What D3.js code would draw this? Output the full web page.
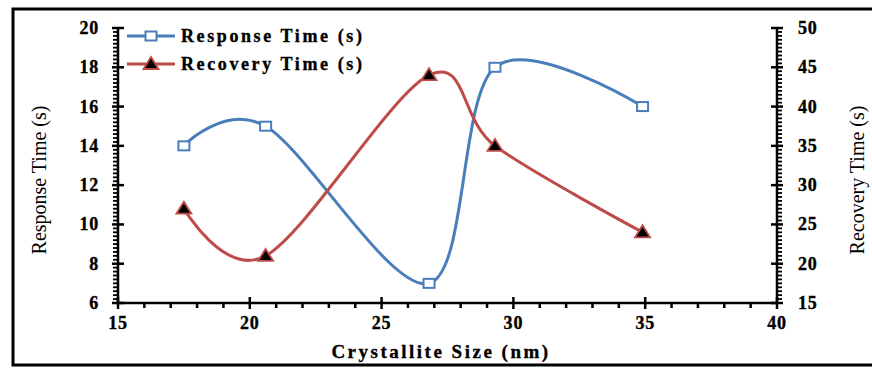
<!DOCTYPE html>
<html><head><meta charset="utf-8">
<script src="https://cdn.jsdelivr.net/npm/d3@7"></script>
<style>body{margin:0;background:#fff;} svg{display:block;} text{font-family:"Liberation Serif","Times New Roman",Times,serif;}
.b{font-weight:700;stroke:#000;stroke-width:0.35px;}</style>
</head><body>
<script>
const crystalliteSize = [17.5, 20.6, 26.8, 29.3, 34.9];
const responseTime = [14, 15, 7, 18, 16];
const recoveryTime = [27, 21, 44, 35, 24];
const xTicks = [15, 20, 25, 30, 35, 40];
const yLeftTicks = [6, 8, 10, 12, 14, 16, 18, 20];
const yRightTicks = [15, 20, 25, 30, 35, 40, 45, 50];
const seriesNames = ["Response Time (s)", "Recovery Time (s)"];

const W = 872, H = 370;
const svg = d3.select("body").append("svg").attr("width", W).attr("height", H);
const blue = "#4a7ebb", red = "#be4b48";

svg.append("rect").attr("x", 13).attr("y", 9).attr("width", 870).attr("height", 356)
  .attr("fill", "none").attr("stroke", "#000").attr("stroke-width", 3);

const L = 118, R = 777, T = 28, B = 303;
const x = d3.scaleLinear().domain([15, 40]).range([L, R]);
const yL = d3.scaleLinear().domain([6, 20]).range([B, T]);
const yR = d3.scaleLinear().domain([15, 50]).range([B, T]);

const axG = svg.append("g").attr("stroke", "#000");
axG.append("line").attr("x1", L).attr("x2", R).attr("y1", B).attr("y2", B).attr("stroke-width", 2.5);
axG.append("line").attr("x1", L).attr("x2", L).attr("y1", T).attr("y2", B).attr("stroke-width", 2.5);
axG.append("line").attr("x1", R).attr("x2", R).attr("y1", T).attr("y2", B).attr("stroke-width", 2.5);

d3.range(6, 20.001, 0.2).forEach(v => {
  const major = Math.abs(v / 2 - Math.round(v / 2)) < 1e-6;
  axG.append("line").attr("y1", yL(v)).attr("y2", yL(v))
    .attr("x1", major ? L - 6 : L - 5).attr("x2", major ? L + 6 : L)
    .attr("stroke-width", major ? 2.5 : 1.8);
});
d3.range(15, 50.001, 0.5).forEach(v => {
  const major = Math.abs(v / 5 - Math.round(v / 5)) < 1e-6;
  axG.append("line").attr("y1", yR(v)).attr("y2", yR(v))
    .attr("x1", major ? R - 6 : R).attr("x2", major ? R + 6 : R + 5)
    .attr("stroke-width", major ? 2.5 : 1.8);
});
d3.range(15, 40.001, 1).forEach(v => {
  const major = v % 5 === 0;
  axG.append("line").attr("x1", x(v)).attr("x2", x(v))
    .attr("y1", major ? B - 6 : B).attr("y2", major ? B + 6 : B + 5)
    .attr("stroke-width", 2.5);
});

const lab = svg.append("g").attr("font-size", 18).attr("fill", "#000");
yLeftTicks.forEach(v => lab.append("text").attr("class", "b").attr("x", 99).attr("y", yL(v) + 6)
  .attr("text-anchor", "end").attr("letter-spacing", 0.8).text(v));
yRightTicks.forEach(v => lab.append("text").attr("class", "b").attr("x", 798).attr("y", yR(v) + 6)
  .attr("text-anchor", "start").attr("letter-spacing", 0.8).text(v));
xTicks.forEach(v => lab.append("text").attr("class", "b").attr("x", x(v)).attr("y", 329)
  .attr("text-anchor", "middle").attr("letter-spacing", 0.8).text(v));

svg.append("text").attr("transform", "translate(46,180) rotate(-90)")
  .attr("text-anchor", "middle").attr("font-size", 20).text("Response Time (s)");
svg.append("text").attr("transform", "translate(864,180) rotate(-90)")
  .attr("text-anchor", "middle").attr("font-size", 20).text("Recovery Time (s)");
svg.append("text").attr("class", "b").attr("x", 441).attr("y", 358).attr("text-anchor", "middle")
  .attr("font-size", 19).attr("letter-spacing", 2.5).text("Crystallite Size (nm)");

const curve = d3.curveCardinal.tension(0);
const respData = crystalliteSize.map((c, i) => [c, responseTime[i]]);
const recData = crystalliteSize.map((c, i) => [c, recoveryTime[i]]);

svg.append("path").datum(respData)
  .attr("d", d3.line().x(d => x(d[0])).y(d => yL(d[1])).curve(curve))
  .attr("fill", "none").attr("stroke", blue).attr("stroke-width", 3);
svg.append("path").datum(recData)
  .attr("d", d3.line().x(d => x(d[0])).y(d => yR(d[1])).curve(curve))
  .attr("fill", "none").attr("stroke", red).attr("stroke-width", 3);

const sq = 11;
function square(g, cx, cy) {
  g.append("rect").attr("x", cx - sq / 2).attr("y", cy - 4.5).attr("width", sq).attr("height", 9)
    .attr("fill", "#fff").attr("stroke", blue).attr("stroke-width", 2);
}
function tri(g, cx, cy) {
  g.append("path").attr("d", `M${cx},${cy - 7}L${cx + 7.5},${cy + 5}L${cx - 7.5},${cy + 5}Z`)
    .attr("fill", "#000").attr("stroke", red).attr("stroke-width", 1.8);
}
const mk = svg.append("g");
respData.forEach(d => square(mk, x(d[0]), yL(d[1])));
recData.forEach(d => tri(mk, x(d[0]), yR(d[1])));

const lg = svg.append("g");
[[36, blue, square], [64, red, tri]].forEach(([ly, col, fn], i) => {
  lg.append("line").attr("x1", 127).attr("x2", 175).attr("y1", ly).attr("y2", ly)
    .attr("stroke", col).attr("stroke-width", 3);
  fn(lg, 151, ly);
  lg.append("text").attr("class", "b").attr("x", 181).attr("y", ly + 6)
    .attr("font-size", 18).attr("letter-spacing", 2.6)
    .text(seriesNames[i]);
});
</script>
</body></html>
